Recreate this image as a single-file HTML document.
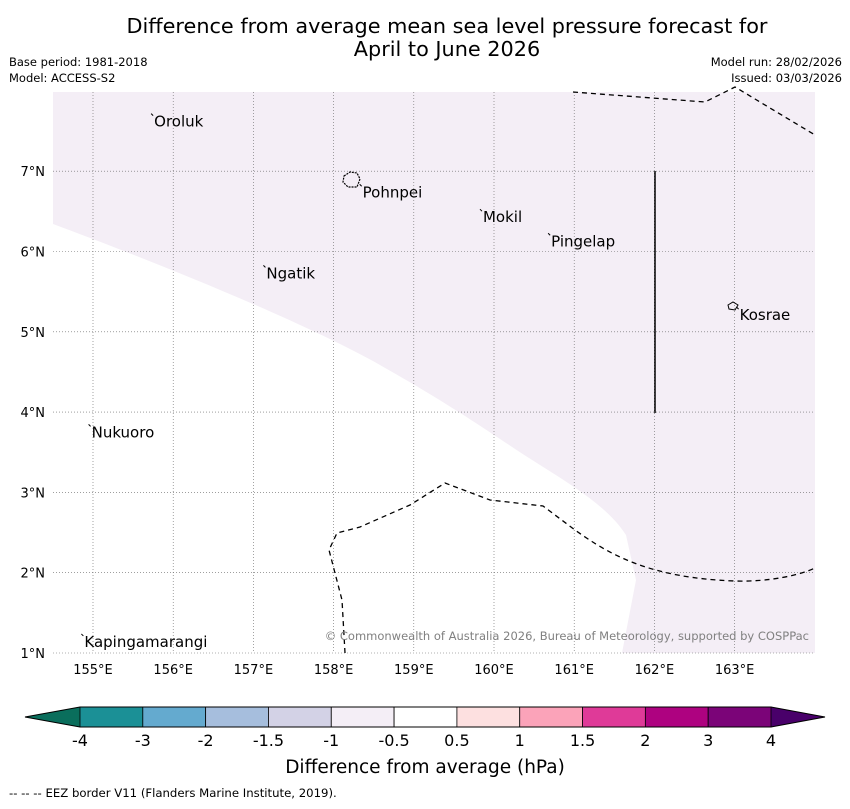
<!DOCTYPE html>
<html><head><meta charset="utf-8"><style>
body{margin:0;background:#fff;font-family:"Liberation Sans","DejaVu Sans",sans-serif}
</style></head><body>
<svg id="chart" width="850" height="804" xmlns="http://www.w3.org/2000/svg" font-family="DejaVu Sans, Liberation Sans, sans-serif">
<text x="447" y="33" font-size="20.8" text-anchor="middle">Difference from average mean sea level pressure forecast for</text>
<text x="447" y="56" font-size="20.8" text-anchor="middle">April to June 2026</text>
<text x="9" y="66" font-size="11.5">Base period: 1981-2018</text>
<text x="9" y="82" font-size="11.5">Model: ACCESS-S2</text>
<text x="842" y="66" font-size="11.5" text-anchor="end">Model run: 28/02/2026</text>
<text x="842" y="82" font-size="11.5" text-anchor="end">Issued: 03/03/2026</text>
<g id="map">
<rect x="53" y="92" width="762" height="561" fill="#fff"/>
<path d="M53,224 C150,260 300,320 380,365 C460,410 500,440 540,465 C580,490 610,510 626,535 L636,580 L622,653 L815,653 L815,92 L53,92 Z" fill="#f4eef6"/>
<g id="grid"></g>
<path d="M573,92 L705,102 L735,87 L815,135" fill="none" stroke="#000" stroke-width="1.3" stroke-dasharray="5,4"/>
<path d="M345,653 L342,600 L329,550 L337,533 L360,527 L410,505 L445,483 L490,500 L543,506 L575,530 C610,555 650,578 735,581 C770,582 800,575 815,568" fill="none" stroke="#000" stroke-width="1.3" stroke-dasharray="5,4"/>
<line x1="655" y1="171" x2="655" y2="413" stroke="#000" stroke-width="1.5"/>
<path d="M344,176 L350,172 L357,173 L360,179 L357,187 L348,187 L343,182 Z" fill="none" stroke="#000" stroke-width="1.2" stroke-dasharray="2,1"/>
<path d="M728,305 L733,302 L738,305 L735,310 L729,309 Z" fill="none" stroke="#000" stroke-width="1"/>
<g id="places"></g>
<text x="809" y="640" font-size="11.5" fill="#808080" text-anchor="end">© Commonwealth of Australia 2026, Bureau of Meteorology, supported by COSPPac</text>
</g>
<g id="ticks"></g>
<g id="cbar"></g>
<text x="425" y="773" font-size="18.5" text-anchor="middle">Difference from average (hPa)</text>
<text x="9" y="797" font-size="11.7">--  --  -- EEZ border V11 (Flanders Marine Institute, 2019).</text>
</svg>
<script>
const lonTicks=[155,156,157,158,159,160,161,162,163];
const latTicks=[1,2,3,4,5,6,7];
const placeNames=["Oroluk","Pohnpei","Mokil","Pingelap","Ngatik","Kosrae","Nukuoro","Kapingamarangi"];
const placeLon=[155.75,158.35,159.85,160.7,157.15,163.05,154.97,154.88];
const placeLat=[7.63,6.75,6.44,6.14,5.74,5.22,3.76,1.15];
const cbarLabels=["-4","-3","-2","-1.5","-1","-0.5","0.5","1","1.5","2","3","4"];
const cbarColors=["#1b9096","#64aacf","#a6bedd","#d3d2e6","#f4eef6","#ffffff","#fde0e0","#fba3b9","#df3a98","#ae0280","#7b0478"];
const NS="http://www.w3.org/2000/svg";
const X=lon=>93+(lon-155)*80.2, Y=lat=>653-(lat-1)*80.3;
function mk(t,a,p){const e=document.createElementNS(NS,t);for(const k in a)e.setAttribute(k,a[k]);p.appendChild(e);return e;}
const grid=document.getElementById('grid'),ticks=document.getElementById('ticks');
lonTicks.forEach(v=>{
 const l=mk('line',{x1:X(v),x2:X(v),y1:92,y2:653,stroke:'#666','stroke-width':0.6,'stroke-dasharray':'1,2'},grid);
 
 
 const t=mk('text',{x:X(v),y:674,'font-size':13,'text-anchor':'middle'},ticks);t.textContent=v+'°E';
 
 
});
latTicks.forEach(v=>{
 const l=mk('line',{x1:53,x2:815,y1:Y(v),y2:Y(v),stroke:'#666','stroke-width':0.6,'stroke-dasharray':'1,2'},grid);
 
 
 const t=mk('text',{x:45,y:Y(v)+5,'font-size':13,'text-anchor':'end'},ticks);t.textContent=v+'°N';
 
 
});
const places=document.getElementById('places');
placeNames.forEach((n,i)=>{
 const x=X(placeLon[i]),y=Y(placeLat[i]);
 const d=mk('line',{x1:x-2,y1:y-7,x2:x,y2:y-5,stroke:'#000','stroke-width':1},places);
 
 
 const t=mk('text',{x:x+1,y:y+6,'font-size':15},places);t.textContent=n;
 
 
});
const cb=document.getElementById('cbar');const x0=80,x1=771,w=(x1-x0)/cbarColors.length,yt=707,yb=727;
const lt=mk('polygon',{points:`${x0},${yt} 25,717 ${x0},${yb}`,fill:'#0a6e5c'},cb);


const rt=mk('polygon',{points:`${x1},${yt} 825,717 ${x1},${yb}`,fill:'#49006a'},cb);


cbarColors.forEach((c,i)=>{
 const r=mk('rect',{x:x0+i*w,y:yt,width:w,height:yb-yt,fill:c,stroke:'#000','stroke-width':0.8},cb);
 
 
});
mk('polygon',{points:`25,717 ${x0},${yt} ${x1},${yt} 825,717 ${x1},${yb} ${x0},${yb}`,fill:'none',stroke:'#000','stroke-width':1},cb);
cbarLabels.forEach((s,i)=>{
 const t=mk('text',{x:x0+i*w,y:746,'font-size':16,'text-anchor':'middle'},cb);t.textContent=s;
 
 
});
</script>
</body></html>
